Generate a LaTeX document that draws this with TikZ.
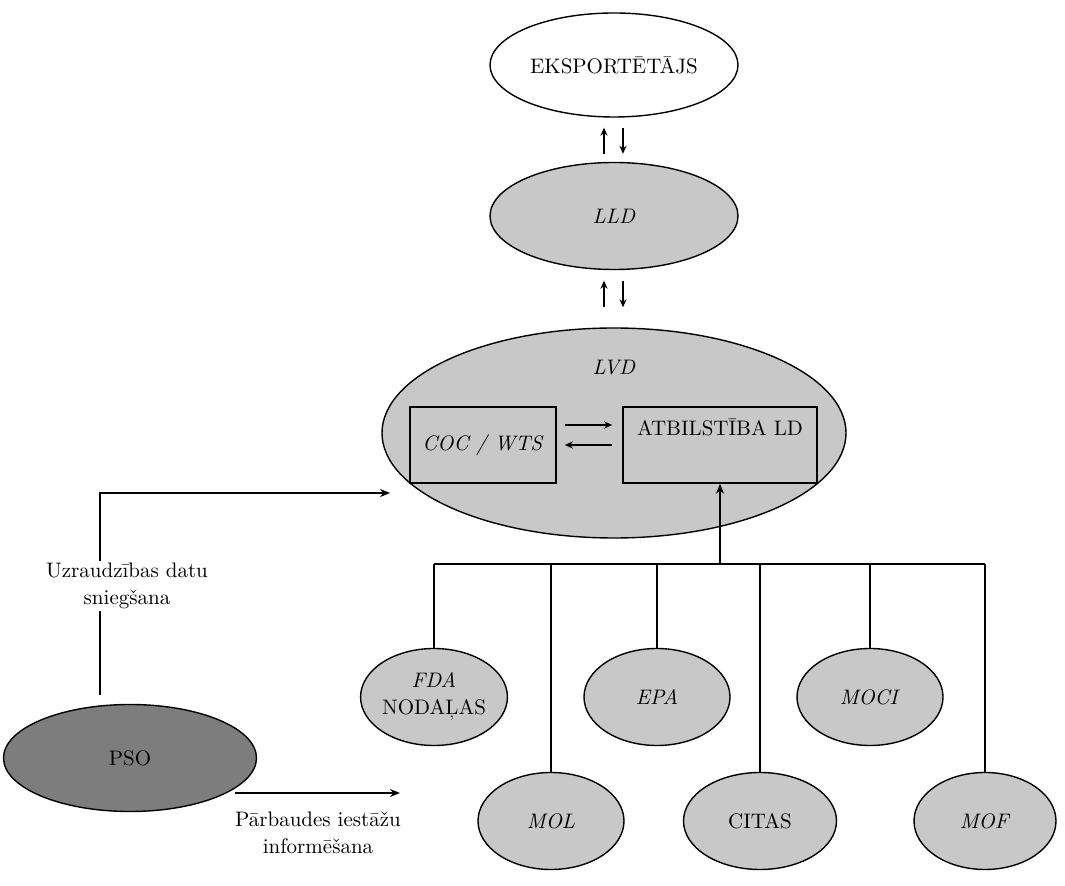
\documentclass[tikz,border=0pt]{standalone}
\usepackage{fontspec}
\usetikzlibrary{arrows.meta,shapes.geometric,positioning}
\definecolor{lgray}{RGB}{200,200,200}
\definecolor{dgray}{RGB}{125,125,125}

\begin{document}
\begin{tikzpicture}[x=0.5pt,y=-0.5pt,>=Stealth,font=\fontsize{10.5}{13.5}\selectfont,
  ell/.style={ellipse,draw,line width=0.7pt,inner sep=0pt,fill=lgray},
  box/.style={rectangle,draw,line width=0.8pt,inner sep=0pt,fill=lgray},
  conn/.style={line width=1pt,-{Stealth[length=5pt,width=4pt]}},
  pair/.style={line width=0.8pt,-{Stealth[length=4pt,width=3.5pt]}},
  tree/.style={line width=0.7pt}]
\useasboundingbox (0,0) rectangle (1065,886);
% central column
\node[ell,fill=white,minimum width=124pt,minimum height=52pt] (eksp) at (614,65) {EKSPORTĒTĀJS};
\node[ell,minimum width=124pt,minimum height=53.5pt] (lld) at (614,216) {\textit{LLD}};
\node[ell,minimum width=232pt,minimum height=105pt,
  label={[yshift=32.5pt]center:\textit{LVD}}] (lvd) at (614,433) {};
\node[box,minimum width=73pt,minimum height=38pt] (coc) at (483,445) {\textit{COC / WTS}};
\node[box,text width=97pt,align=center,text height=14.5pt,text depth=23.5pt] (atb) at (720,445) {ATBILSTĪBA LD};
\draw[pair,shorten <=4pt,shorten >=5pt] ([xshift=-5pt]lld.north) -- ([xshift=-5pt]eksp.south);
\draw[pair,shorten <=5pt,shorten >=4pt] ([xshift=4.5pt]eksp.south) -- ([xshift=4.5pt]lld.north);
\draw[pair,shorten <=10pt,shorten >=5.25pt] ([xshift=-5pt]lvd.north) -- ([xshift=-5pt]lld.south);
\draw[pair,shorten <=5.25pt,shorten >=10pt] ([xshift=4.5pt]lld.south) -- ([xshift=4.5pt]lvd.north);
\draw[pair,shorten <=4pt,shorten >=5pt] ([yshift=10pt]coc.east) -- ([yshift=10pt]atb.west);
\draw[pair,shorten <=5pt,shorten >=4pt] (atb.west) -- (coc.east);
% PSO
\node[ell,fill=dgray,minimum width=126.5pt,minimum height=53.5pt] (pso) at (130,758) {PSO};
\coordinate (psotop) at (100,695);
\coordinate (lvdin) at (390,493);
\draw[conn] (psotop) |- (lvdin);
\node[fill=white,align=center,inner sep=1pt] (uzr) at (127,586) {Uzraudzības datu\\sniegšana};
\coordinate (psoout) at (235,793);
\coordinate (insp) at (400,793);
\draw[conn] (psoout) -- (insp);
\node[align=center] (parb) at (318,833) {Pārbaudes iestāžu\\informēšana};
% inspection bodies
\node[ell,align=center,minimum width=73pt,minimum height=48.5pt] (fda) at (434,697) {\textit{FDA}\\NODAĻAS};
\node[ell,minimum width=73pt,minimum height=48.5pt] (epa) at (657,697) {\textit{EPA}};
\node[ell,minimum width=73pt,minimum height=48.5pt] (moci) at (870,697) {\textit{MOCI}};
\node[ell,minimum width=73pt,minimum height=48.5pt] (mol) at (551,821) {\textit{MOL}};
\node[ell,minimum width=76.5pt,minimum height=48.5pt] (citas) at (760,821) {CITAS};
\node[ell,minimum width=71pt,minimum height=48.5pt] (mof) at (985,821) {\textit{MOF}};
\coordinate (bus) at (0,564);
\draw[tree] (fda.north |- bus) -- (mof.north |- bus);
\foreach \n in {fda,mol,epa,citas,moci,mof}
  \draw[tree] (\n.north) -- (\n.north |- bus);
\draw[conn] (citas.north |- bus) -| (atb.south);
\end{tikzpicture}
\end{document}
